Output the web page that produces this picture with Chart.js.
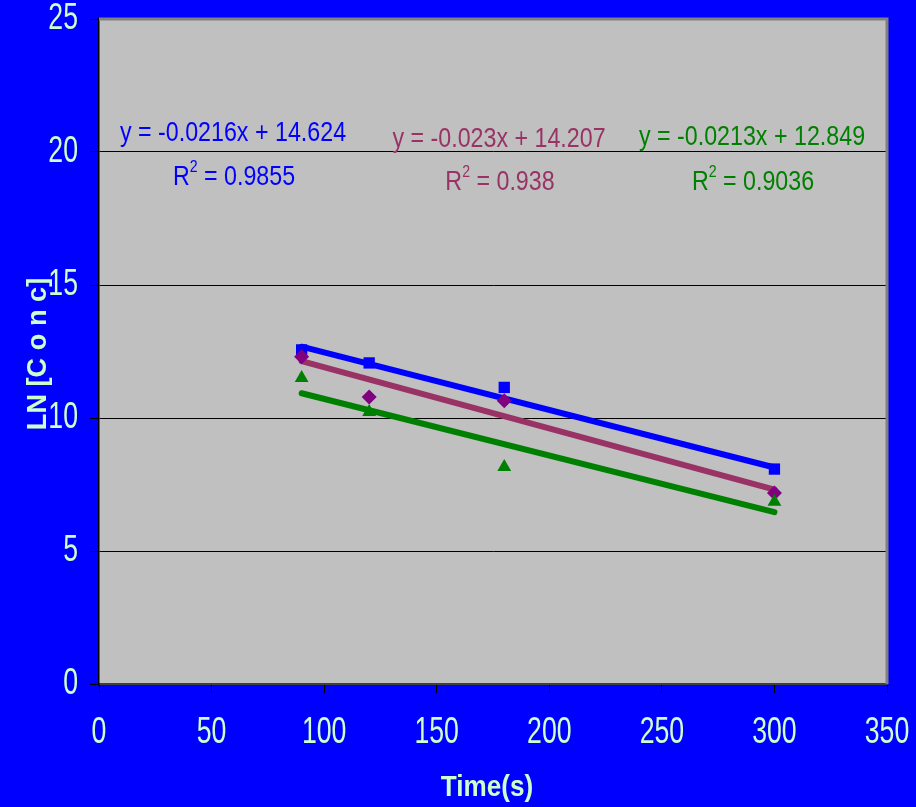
<!DOCTYPE html>
<html>
<head>
<meta charset="utf-8">
<script src="https://cdn.jsdelivr.net/npm/chart.js@4.4.1/dist/chart.umd.min.js"></script>
<style>
  html, body { margin: 0; padding: 0; background: #0000ff; }
  #wrap { width: 916px; height: 807px; }
</style>
</head>
<body>
<div id="wrap"><canvas id="chart" width="916" height="807"></canvas></div>
<script>
// Sample times (s)
const timePoints = [90, 120, 180, 300];

// LN[Conc] readings for each run
const blueValues = [12.56, 12.07, 11.15, 8.08];
const purpleValues = [12.3, 10.79, 10.65, 7.18];
const greenValues = [11.5, 10.23, 8.16, 6.85];

// Trendline end points (x = 90 and x = 300)
const trendX = [90, 300];
const blueTrend = [12.68, 8.14];
const purpleTrend = [12.14, 7.31];
const greenTrend = [10.93, 6.46];

// Trendline labels
const equations = ["y = -0.0216x + 14.624", "y = -0.023x + 14.207", "y = -0.0213x + 12.849"];
const rSquared = ["0.9855", "0.938", "0.9036"];

const xTicks = [0, 50, 100, 150, 200, 250, 300, 350];
const yTicks = [0, 5, 10, 15, 20, 25];

const FONT = "'Liberation Sans', Arial, sans-serif";
const TEXT = "#ccffcc";

function toPoints(xs, ys) {
  return xs.map((x, i) => ({ x: x, y: ys[i] }));
}

// Draw text squeezed horizontally (the original uses a narrow face)
function narrowText(ctx, text, x, y, font, squeeze, align) {
  ctx.save();
  ctx.font = font;
  ctx.textAlign = align || "center";
  ctx.textBaseline = "middle";
  ctx.translate(x, y);
  ctx.scale(squeeze, 1);
  ctx.fillText(text, 0, 0);
  ctx.restore();
}

// Background: blue page and gray plot area
const backgroundPlugin = {
  id: "background",
  beforeDraw(chart) {
    const { ctx, chartArea } = chart;
    ctx.save();
    ctx.fillStyle = "#0000ff";
    ctx.fillRect(0, 0, chart.width, chart.height);
    ctx.fillStyle = "#c0c0c0";
    ctx.fillRect(chartArea.left, chartArea.top, chartArea.right - chartArea.left, chartArea.bottom - chartArea.top);
    ctx.restore();
  },
  afterDatasetsDraw(chart) {
    const { ctx, chartArea } = chart;
    ctx.save();
    ctx.strokeStyle = "#808080";
    ctx.lineWidth = 3;
    ctx.beginPath();
    ctx.moveTo(chartArea.left, chartArea.top);
    ctx.lineTo(chartArea.right, chartArea.top);
    ctx.lineTo(chartArea.right, chartArea.bottom);
    ctx.stroke();
    ctx.restore();
  },
};

// Tick labels, axis titles and trendline labels
const labelsPlugin = {
  id: "labels",
  afterDraw(chart) {
    const { ctx, scales } = chart;
    ctx.save();
    ctx.fillStyle = TEXT;

    xTicks.forEach((v) => {
      narrowText(ctx, String(v), scales.x.getPixelForValue(v), 733, "36px " + FONT, 0.74);
    });
    yTicks.forEach((v) => {
      narrowText(ctx, String(v), 78, scales.y.getPixelForValue(v), "36px " + FONT, 0.74, "right");
    });

    // x title
    narrowText(ctx, "Time(s)", 487, 788, "bold 30px " + FONT, 0.87);

    // y title
    ctx.save();
    ctx.translate(38, 354);
    ctx.rotate(-Math.PI / 2);
    narrowText(ctx, "LN [C o n c]", 0, 0, "bold 28px " + FONT, 0.97);
    ctx.restore();

    // trendline equations
    const colors = ["#0000ff", "#993366", "#008000"];
    const eqPos = [[233, 133], [499, 139], [752, 137]];
    const rPos = [[234, 177], [500, 182], [753, 182]];
    const sq = 0.83;
    equations.forEach((eq, i) => {
      ctx.fillStyle = colors[i];
      narrowText(ctx, eq, eqPos[i][0], eqPos[i][1], "28px " + FONT, sq);

      // R² with a small superscript
      const rest = " = " + rSquared[i];
      ctx.font = "28px " + FONT;
      const wR = ctx.measureText("R").width * sq;
      const wRest = ctx.measureText(rest).width * sq;
      ctx.font = "17px " + FONT;
      const w2 = ctx.measureText("2").width * sq;
      let x = rPos[i][0] - (wR + w2 + wRest) / 2;
      const y = rPos[i][1];
      narrowText(ctx, "R", x, y, "28px " + FONT, sq, "left");
      x += wR;
      narrowText(ctx, "2", x, y - 10, "17px " + FONT, sq, "left");
      x += w2;
      narrowText(ctx, rest, x, y, "28px " + FONT, sq, "left");
    });
    ctx.restore();
  },
};

function trendDataset(ys, color) {
  return {
    type: "line",
    data: toPoints(trendX, ys),
    borderColor: color,
    borderWidth: 6,
    borderCapStyle: "round",
    pointRadius: 0,
    order: 2,
  };
}

function pointDataset(ys, color, style, radius) {
  return {
    type: "scatter",
    data: toPoints(timePoints, ys),
    pointStyle: style,
    pointRadius: radius,
    pointBackgroundColor: color,
    pointBorderColor: color,
    pointBorderWidth: 0,
    showLine: false,
    order: 1,
  };
}

const ctx = document.getElementById("chart").getContext("2d");

new Chart(ctx, {
  type: "scatter",
  data: {
    datasets: [
      trendDataset(greenTrend, "#008000"),
      trendDataset(purpleTrend, "#993366"),
      trendDataset(blueTrend, "#0000ff"),
      pointDataset(greenValues, "#008000", "triangle", 8),
      pointDataset(purpleValues, "#800080", "rectRot", 7.5),
      pointDataset(blueValues, "#0000ff", "rect", 8),
    ],
  },
  options: {
    responsive: false,
    animation: false,
    layout: { padding: { top: 19, right: 29, left: 0, bottom: 0 } },
    plugins: {
      legend: { display: false },
      tooltip: { enabled: false },
    },
    scales: {
      x: {
        type: "linear",
        min: 0,
        max: 350,
        afterBuildTicks: (axis) => {
          axis.ticks = xTicks.map((v) => ({ value: v }));
        },
        afterFit: (axis) => {
          axis.height = 123;
        },
        ticks: { display: false },
        grid: {
          drawOnChartArea: false,
          color: "#000000",
          tickLength: 9,
        },
        border: { color: "#404040", width: 2 },
      },
      y: {
        min: 0,
        max: 25,
        afterBuildTicks: (axis) => {
          axis.ticks = yTicks.map((v) => ({ value: v }));
        },
        afterFit: (axis) => {
          axis.width = 99;
        },
        ticks: { display: false },
        grid: {
          color: "#000000",
          lineWidth: 1,
          tickLength: 9,
        },
        border: { color: "#000000", width: 1.5 },
      },
    },
  },
  plugins: [backgroundPlugin, labelsPlugin],
});
</script>
</body>
</html>
